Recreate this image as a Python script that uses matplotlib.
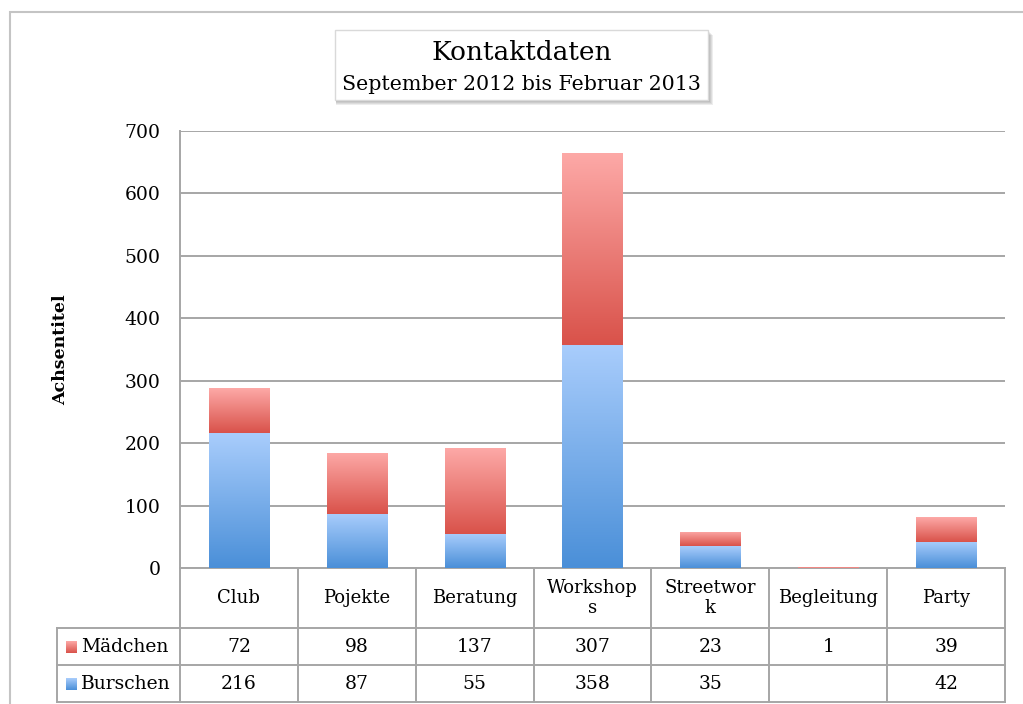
import numpy as np
import matplotlib
matplotlib.use("Agg")
from matplotlib import pyplot as plt
from matplotlib.colors import LinearSegmentedColormap
from matplotlib.patches import Rectangle

# Daten
kategorien = ["Club", "Pojekte", "Beratung", "Workshop\ns", "Streetwor\nk", "Begleitung", "Party"]
maedchen = [72, 98, 137, 307, 23, 1, 39]
burschen = [216, 87, 55, 358, 35, 0, 42]
burschen_text = ["216", "87", "55", "358", "35", "", "42"]
maedchen_text = [str(v) for v in maedchen]

plt.rcParams['font.family'] = ['DejaVu Serif']

W, H = 1023, 704
fig = plt.figure(figsize=(W / 100, H / 100), dpi=100)
ax = fig.add_axes([180 / W, 1 - 568 / H, (1005 - 180) / W, (568 - 131) / H])

blau = LinearSegmentedColormap.from_list("blau", ["#4a8fd8", "#a9cdfc"])
rot = LinearSegmentedColormap.from_list("rot", ["#d9524a", "#fda9a7"])

x = np.arange(len(kategorien))
breite = 0.51
b1 = ax.bar(x, burschen, breite, color="none", edgecolor="none")
b2 = ax.bar(x, maedchen, breite, bottom=burschen, color="none", edgecolor="none")

grad = np.linspace(0, 1, 256).reshape(-1, 1)
for bars, cmap in ((b1, blau), (b2, rot)):
    for p in bars:
        if p.get_height() <= 0:
            continue
        x0, y0 = p.get_x(), p.get_y()
        im = ax.imshow(grad, cmap=cmap, origin="lower", aspect="auto",
                       extent=(x0, x0 + p.get_width(), y0, y0 + p.get_height()),
                       zorder=3)
        im.set_clip_path(p)

ax.set_xlim(-0.5, len(kategorien) - 0.5)
ax.set_ylim(0, 700)
ax.set_yticks(range(0, 701, 100))
ax.tick_params(axis="y", length=0, labelsize=13.5, pad=14)
ax.set_xticks([])
ax.grid(axis="y", color="#a6a6a6", linewidth=1.4)
ax.set_axisbelow(True)
for s in ("top", "right", "bottom"):
    ax.spines[s].set_visible(False)
ax.spines["left"].set_color("#a6a6a6")
ax.spines["left"].set_linewidth(1.4)
ax.set_ylabel("Achsentitel", fontsize=12.5, fontweight="bold", labelpad=40)

# Tabelle unter dem Diagramm
tr = ax.get_xaxis_transform()
hpx = 568 - 131
def ya(py):
    return (568 - py) / hpx
col_w = 1.0 / ((1005 - 180) / 7)
x_lab = -0.5 - (180 - 57) * col_w
linie = dict(color="#a6a6a6", linewidth=1.4, transform=tr, clip_on=False)
xr = len(kategorien) - 0.5
for yy in (568, 628, 665, 702):
    x_start = -0.5 if yy == 568 else x_lab
    ax.plot([x_start, xr], [ya(yy), ya(yy)], **linie)
for i in range(len(kategorien) + 1):
    ax.plot([i - 0.5, i - 0.5], [ya(568), ya(702)], **linie)
ax.plot([x_lab, x_lab], [ya(628), ya(702)], **linie)

for i, k in enumerate(kategorien):
    ax.text(i, ya(598), k, transform=tr, ha="center", va="center",
            fontsize=13, linespacing=1.1)
    ax.text(i, ya(647), maedchen_text[i], transform=tr, ha="center", va="center", fontsize=13.5)
    ax.text(i, ya(684), burschen_text[i], transform=tr, ha="center", va="center", fontsize=13.5)

for name, cmap, py in (("Mädchen", rot, 647), ("Burschen", blau, 684)):
    mx = x_lab + 9 * col_w
    ax.imshow(grad, cmap=cmap, origin="lower", aspect="auto",
              extent=(mx, mx + 11 * col_w, ya(py + 6), ya(py - 6)),
              transform=tr, clip_on=False, zorder=3)
    ax.text(x_lab + 24 * col_w, ya(py), name, transform=tr, ha="left", va="center", fontsize=13.5)
ax.set_xlim(-0.5, len(kategorien) - 0.5)
ax.set_ylim(0, 700)

# Titelbox mit Schatten
bx0, bx1, by0, by1 = 335, 708, 30, 100
for k in range(5, 0, -1):
    fig.patches.append(Rectangle(((bx0 + 1) / W, 1 - (by1 + k) / H), (bx1 - bx0 + k - 1) / W,
                                 (by1 - by0) / H, transform=fig.transFigure,
                                 facecolor="#000000", alpha=0.07, edgecolor="none"))
fig.patches.append(Rectangle((bx0 / W, 1 - by1 / H), (bx1 - bx0) / W, (by1 - by0) / H,
                             transform=fig.transFigure, facecolor="white",
                             edgecolor="#d9d9d9", linewidth=1))
fig.text((bx0 + bx1) / 2 / W, 1 - 52 / H, "Kontaktdaten", ha="center", va="center", fontsize=19)
fig.text((bx0 + bx1) / 2 / W, 1 - 85 / H, "September 2012 bis Februar 2013", ha="center",
         va="center", fontsize=14.8)

# äußerer Rahmen
fig.patches.append(Rectangle((10 / W, -0.02), 1.05, 1 - 12 / H + 0.02, transform=fig.transFigure,
                             facecolor="none", edgecolor="#c4c4c4", linewidth=1.5))

fig.savefig("out.png", dpi=100)
